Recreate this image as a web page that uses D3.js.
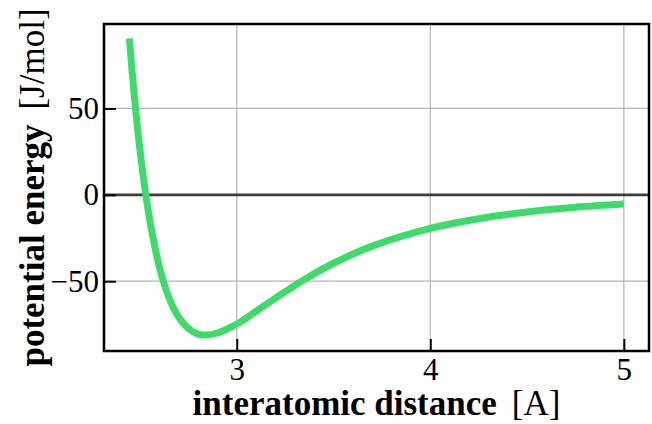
<!DOCTYPE html>
<html>
<head>
<meta charset="utf-8">
<script src="https://cdn.jsdelivr.net/npm/d3@7"></script>
<style>
  body { margin: 0; background: white; }
  text { font-family: 'Liberation Serif', 'DejaVu Serif', serif; fill: black; }
</style>
</head>
<body>
<div id="chart"></div>
<script>
// values
var distance = [2.445, 2.47, 2.50, 2.53, 2.56, 2.60, 2.65, 2.70, 2.75, 2.80, 2.84, 2.90,
                3.00, 3.10, 3.20, 3.35, 3.50, 3.70, 4.00, 4.25, 4.50, 4.75, 5.00];
var energy = [90.5, 58.0, 25.9, 0, -20.6, -41.5, -59.6, -70.9, -77.3, -80.6, -81.2, -80.0,
              -74.8, -67.4, -59.8, -49.0, -39.6, -29.7, -19.4, -13.8, -9.9, -7.2, -5.35];
var xTicks = [3, 4, 5];
var yTicks = [-50, 0, 50];

var margin = {top: 24, right: 3, bottom: 73, left: 104},
  width = 652 - margin.left - margin.right,
  height = 424 - margin.top - margin.bottom;

var xScale = d3.scaleLinear()
    .domain([2.314, 5.13])
    .range([0, width]);

var yScale = d3.scaleLinear()
    .domain([-90.4, 98.9])
    .range([height, 0]);

var svg = d3.select('#chart')
    .append('svg')
    .attr('width', 652)
    .attr('height', 424);

var chart = svg.append('g')
    .attr('transform', 'translate(' + margin.left + ',' + margin.top + ')');

// grid
chart.append('g')
    .selectAll('line')
    .data(xTicks)
    .enter().append('line')
    .attr('x1', function(d) { return xScale(d); })
    .attr('x2', function(d) { return xScale(d); })
    .attr('y1', 0)
    .attr('y2', height)
    .style('stroke', '#b4b4b4')
    .style('stroke-width', 1.2);

chart.append('g')
    .selectAll('line')
    .data(yTicks)
    .enter().append('line')
    .attr('x1', 0)
    .attr('x2', width)
    .attr('y1', function(d) { return yScale(d); })
    .attr('y2', function(d) { return yScale(d); })
    .style('stroke', function(d) { return d == 0 ? '#3c3c3c' : '#b4b4b4'; })
    .style('stroke-width', function(d) { return d == 0 ? 2.6 : 1.2; });

// axes with inner ticks
var xAxis = chart.append('g')
    .attr('transform', 'translate(0,' + height + ')')
    .call(d3.axisBottom(xScale).tickValues(xTicks).tickSizeInner(-12).tickSizeOuter(0).tickPadding(7)
      .tickFormat(d3.format('d')));

var yAxis = chart.append('g')
    .call(d3.axisLeft(yScale).tickValues(yTicks).tickSizeInner(-12).tickSizeOuter(0).tickPadding(5)
      .tickFormat(function(d) { return d < 0 ? '\u2212' + Math.abs(d) : d; }));

[xAxis, yAxis].forEach(function(ax) {
  ax.select('.domain').remove();
  ax.attr('font-size', null).attr('font-family', null);
  ax.selectAll('.tick line').style('stroke', 'black').style('stroke-width', 2);
  ax.selectAll('.tick text')
    .style('font-family', "'Liberation Serif', serif")
    .style('font-size', '31px')
    .attr('fill', 'black');
});

// curve
var line = d3.line()
    .x(function(d, i) { return xScale(distance[i]); })
    .y(function(d) { return yScale(d); })
    .curve(d3.curveCatmullRom.alpha(0.5));

chart.append('path')
    .datum(energy)
    .attr('d', line)
    .style('fill', 'none')
    .style('stroke', '#3ddc6a')
    .style('stroke-width', 7);

// frame
chart.append('rect')
    .attr('width', width)
    .attr('height', height)
    .style('fill', 'none')
    .style('stroke', 'black')
    .style('stroke-width', 2.5);

// labels
var xLabel = svg.append('text')
    .attr('x', margin.left + width / 2)
    .attr('y', 415)
    .style('text-anchor', 'middle')
    .style('font-size', '35px');
xLabel.append('tspan').style('font-weight', 'bold').text('interatomic distance');
xLabel.append('tspan').attr('dx', 15).text('[A]');

var yLabel = svg.append('text')
    .attr('transform', 'translate(44,' + (margin.top + height / 2) + ')rotate(-90)')
    .style('text-anchor', 'middle')
    .style('font-size', '35px');
yLabel.append('tspan').style('font-weight', 'bold').text('potential energy');
yLabel.append('tspan').attr('dx', 15).text('[J/mol]');
</script>
</body>
</html>
